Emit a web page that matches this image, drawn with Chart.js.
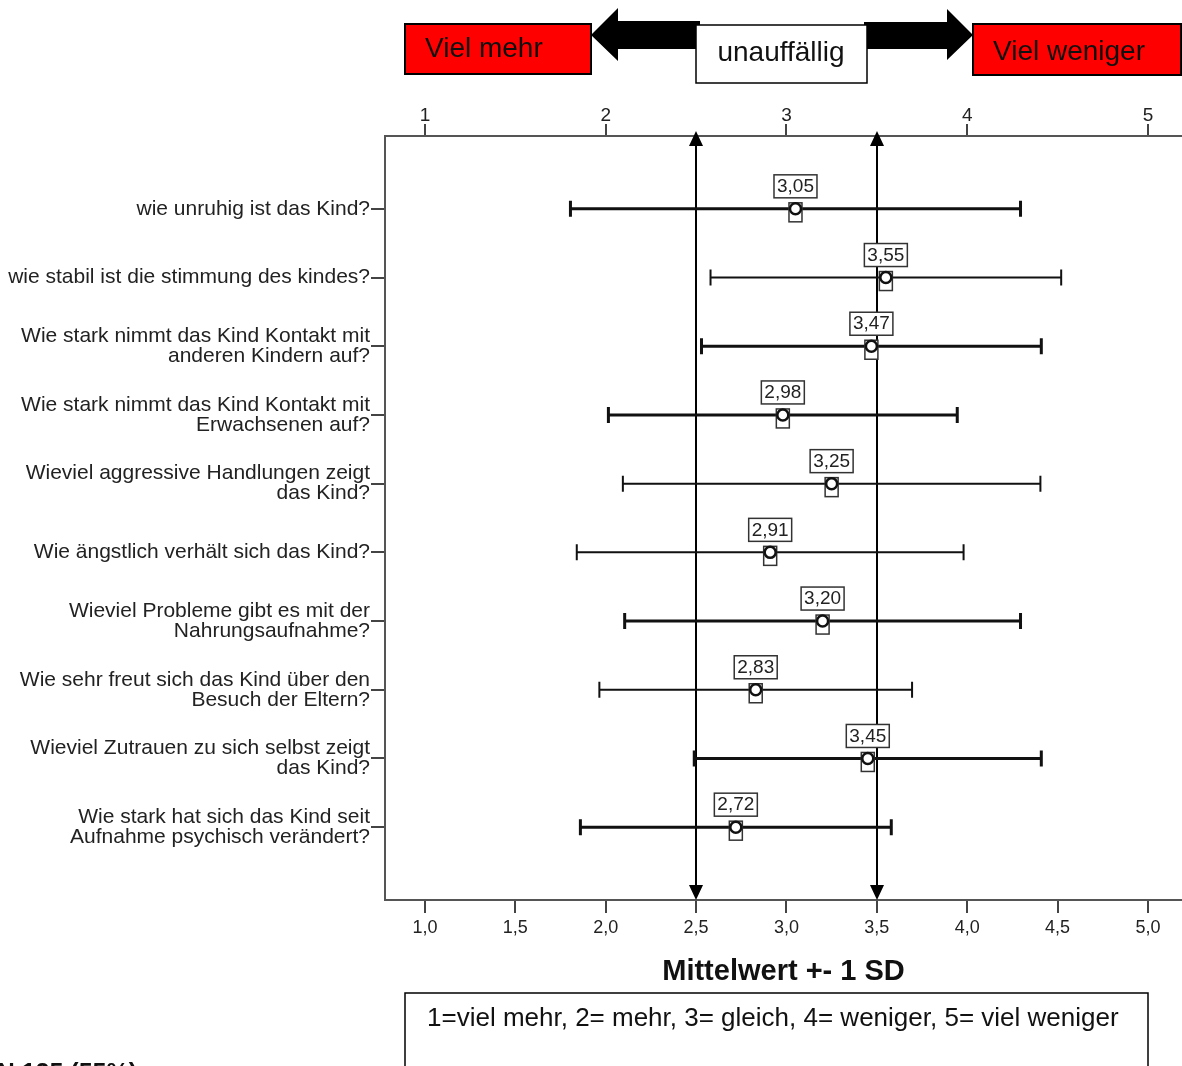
<!DOCTYPE html>
<html lang="de">
<head>
<meta charset="utf-8">
<title>Mittelwert +- 1 SD</title>
<script src="https://cdn.jsdelivr.net/npm/chart.js@4.4.1/dist/chart.umd.min.js"></script>
<style>
  html, body { margin: 0; padding: 0; background: #fff; overflow: hidden; }
  #chart { display: block; }
</style>
</head>
<body>
<canvas id="chart" width="1182" height="1066"></canvas>
<script>
// Fragen (Kategorien), je Zeile ein Eintrag
const fragen = [
  ['wie unruhig ist das Kind?'],
  ['wie stabil ist die stimmung des kindes?'],
  ['Wie stark nimmt das Kind Kontakt mit', 'anderen Kindern auf?'],
  ['Wie stark nimmt das Kind Kontakt mit', 'Erwachsenen auf?'],
  ['Wieviel aggressive Handlungen zeigt', 'das Kind?'],
  ['Wie ängstlich verhält sich das Kind?'],
  ['Wieviel Probleme gibt es mit der', 'Nahrungsaufnahme?'],
  ['Wie sehr freut sich das Kind über den', 'Besuch der Eltern?'],
  ['Wieviel Zutrauen zu sich selbst zeigt', 'das Kind?'],
  ['Wie stark hat sich das Kind seit', 'Aufnahme psychisch verändert?']
];
// Mittelwerte und Standardabweichungen
const mittelwerte = [3.05, 3.55, 3.47, 2.98, 3.25, 2.91, 3.20, 2.83, 3.45, 2.72];
const standardabw = [1.245, 0.97, 0.94, 0.965, 1.155, 1.07, 1.095, 0.865, 0.96, 0.86];

// Achsenbeschriftungen
const ticksUnten = [1.0, 1.5, 2.0, 2.5, 3.0, 3.5, 4.0, 4.5, 5.0];
const ticksOben = [1, 2, 3, 4, 5];
// Bereich "unauffällig"
const grenzen = [2.5, 3.5];

// Linienstärke der Fehlerbalken (wie im Original teils fett)
const balkenBreite = [3, 2, 3, 3, 2, 2, 3, 2, 3, 3];

const schrift = 'Liberation Sans, Arial, sans-serif';
Chart.defaults.font.family = schrift;
Chart.defaults.color = '#222';

const fmt = v => v.toFixed(2).replace('.', ',');

// Skala: 1 bei x=425, 5 bei x=1148
const xMin = 0.779;
const xMax = 0.779 + 797 / 180.75;

// Fehlerbalken, Markierungen, Wertelabels und Pfeile
const fehlerbalken = {
  id: 'fehlerbalken',
  beforeDatasetsDraw(chart) {
    const {ctx, chartArea, scales: {x, y}} = chart;
    ctx.save();
    // senkrechte Linien mit Pfeilspitzen
    ctx.strokeStyle = '#000';
    ctx.fillStyle = '#000';
    ctx.lineWidth = 2;
    grenzen.forEach(g => {
      const px = Math.round(x.getPixelForValue(g));
      const top = chartArea.top - 5, bot = chartArea.bottom;
      ctx.beginPath();
      ctx.moveTo(px, top + 4);
      ctx.lineTo(px, bot - 4);
      ctx.stroke();
      ctx.beginPath();
      ctx.moveTo(px, top); ctx.lineTo(px - 7, top + 15); ctx.lineTo(px + 7, top + 15);
      ctx.closePath(); ctx.fill();
      ctx.beginPath();
      ctx.moveTo(px, bot); ctx.lineTo(px - 7, bot - 15); ctx.lineTo(px + 7, bot - 15);
      ctx.closePath(); ctx.fill();
    });
    // Fehlerbalken
    mittelwerte.forEach((m, i) => {
      const py = y.getPixelForValue(i);
      const x1 = x.getPixelForValue(m - standardabw[i]);
      const x2 = x.getPixelForValue(m + standardabw[i]);
      ctx.lineWidth = balkenBreite[i];
      ctx.strokeStyle = '#111';
      ctx.beginPath();
      ctx.moveTo(x1, py); ctx.lineTo(x2, py);
      ctx.moveTo(x1, py - 8); ctx.lineTo(x1, py + 8);
      ctx.moveTo(x2, py - 8); ctx.lineTo(x2, py + 8);
      ctx.stroke();
      // Kasten um die Markierung
      const px = x.getPixelForValue(m);
      ctx.lineWidth = 1.5;
      ctx.strokeStyle = '#333';
      ctx.fillStyle = '#fff';
      ctx.fillRect(px - 6.5, py - 6, 13, 19);
      ctx.strokeRect(px - 6.5, py - 6, 13, 19);
    });
    ctx.restore();
  },
  afterDatasetsDraw(chart) {
    const {ctx, scales: {x, y}} = chart;
    ctx.save();
    ctx.font = '19px ' + schrift;
    ctx.textAlign = 'center';
    ctx.textBaseline = 'middle';
    mittelwerte.forEach((m, i) => {
      const px = x.getPixelForValue(m);
      const py = y.getPixelForValue(i);
      const t = fmt(m);
      const w = ctx.measureText(t).width + 6;
      ctx.fillStyle = '#fff';
      ctx.fillRect(px - w / 2, py - 34, w, 23);
      ctx.lineWidth = 1.5;
      ctx.strokeStyle = '#333';
      ctx.strokeRect(px - w / 2, py - 34, w, 23);
      ctx.fillStyle = '#222';
      ctx.fillText(t, px, py - 22);
    });
    ctx.restore();
  }
};

// Kästen und Pfeile über dem Diagramm, Legende unten
const deko = {
  id: 'deko',
  afterDraw(chart) {
    const {ctx} = chart;
    ctx.save();
    ctx.lineWidth = 2;
    ctx.strokeStyle = '#000';
    // Pfeil links
    ctx.fillStyle = '#000';
    ctx.beginPath();
    ctx.moveTo(591, 35); ctx.lineTo(618, 8); ctx.lineTo(618, 21); ctx.lineTo(700, 21);
    ctx.lineTo(700, 49); ctx.lineTo(618, 49); ctx.lineTo(618, 61); ctx.closePath();
    ctx.fill();
    // Pfeil rechts
    ctx.beginPath();
    ctx.moveTo(973, 35); ctx.lineTo(947, 9); ctx.lineTo(947, 22); ctx.lineTo(864, 22);
    ctx.lineTo(864, 49); ctx.lineTo(947, 49); ctx.lineTo(947, 60); ctx.closePath();
    ctx.fill();
    // rote Kästen
    ctx.fillStyle = '#ff0000';
    ctx.fillRect(405, 24, 186, 50); ctx.strokeRect(405, 24, 186, 50);
    ctx.fillRect(973, 24, 208, 51); ctx.strokeRect(973, 24, 208, 51);
    // weißer Kasten
    ctx.fillStyle = '#fff';
    ctx.fillRect(696, 25, 171, 58);
    ctx.lineWidth = 1.5;
    ctx.strokeRect(696, 25, 171, 58);

    ctx.fillStyle = '#111';
    ctx.font = '28px ' + schrift;
    ctx.textBaseline = 'middle';
    ctx.textAlign = 'left';
    ctx.fillText('Viel mehr', 425, 49);
    ctx.fillText('Viel weniger', 993, 52);
    ctx.textAlign = 'center';
    ctx.fillText('unauffällig', 781, 53);

    // Legende der Skala
    ctx.lineWidth = 1.5;
    ctx.strokeRect(405, 993, 743, 90);
    ctx.font = '26px ' + schrift;
    ctx.textAlign = 'left';
    ctx.fillText('1=viel mehr, 2= mehr, 3= gleich, 4= weniger, 5= viel weniger', 427, 1019);

    // abgeschnittene Angabe unten links
    ctx.font = 'bold 25px ' + schrift;
    ctx.textAlign = 'right';
    ctx.textBaseline = 'alphabetic';
    ctx.fillText('N 125 (55%)', 137, 1081);
    ctx.restore();
  }
};

const keinRand = s => { s.paddingLeft = 0; s.paddingRight = 0; };

new Chart(document.getElementById('chart'), {
  type: 'scatter',
  data: {
    datasets: [{
      data: mittelwerte.map((m, i) => ({x: m, y: i})),
      pointStyle: 'circle',
      pointRadius: 5.5,
      pointHoverRadius: 5.5,
      pointBorderWidth: 2.5,
      pointBorderColor: '#111',
      pointBackgroundColor: '#fff'
    }]
  },
  options: {
    responsive: false,
    animation: false,
    devicePixelRatio: 1,
    layout: { padding: 0, autoPadding: false },
    plugins: { legend: { display: false }, tooltip: { enabled: false } },
    scales: {
      x: {
        position: 'bottom',
        min: xMin,
        max: xMax,
        afterFit: s => { s.height = 166; keinRand(s); },
        afterBuildTicks: s => { s.ticks = ticksUnten.map(v => ({value: v})); },
        ticks: {
          padding: 4,
          font: { size: 18 },
          color: '#222',
          callback: v => v.toFixed(1).replace('.', ',')
        },
        grid: { drawOnChartArea: false, tickLength: 13, color: '#444', lineWidth: 2 },
        border: { display: true, color: '#555', width: 2 },
        title: {
          display: true,
          text: 'Mittelwert +- 1 SD',
          color: '#111',
          font: { size: 29, weight: 'bold' },
          padding: { top: 0, bottom: 77 }
        }
      },
      x2: {
        position: 'top',
        min: xMin,
        max: xMax,
        afterFit: s => { s.height = 136; keinRand(s); },
        afterBuildTicks: s => { s.ticks = ticksOben.map(v => ({value: v})); },
        ticks: { padding: -3, font: { size: 19 }, color: '#222', callback: v => String(v) },
        grid: { drawOnChartArea: false, tickLength: 12, color: '#444', lineWidth: 2 },
        border: { display: true, color: '#555', width: 2 }
      },
      y: {
        min: -1.06,
        max: 10.06,
        reverse: true,
        afterFit: s => { s.width = 385; },
        afterBuildTicks: s => { s.ticks = fragen.map((_, i) => ({value: i})); },
        ticks: {
          autoSkip: false,
          padding: 1,
          font: { size: 21, lineHeight: 0.95 },
          color: '#222',
          callback: v => fragen[v]
        },
        grid: { drawOnChartArea: false, tickLength: 14, color: '#444', lineWidth: 2 },
        border: { display: true, color: '#555', width: 2 }
      }
    }
  },
  plugins: [fehlerbalken, deko]
});
</script>
</body>
</html>
